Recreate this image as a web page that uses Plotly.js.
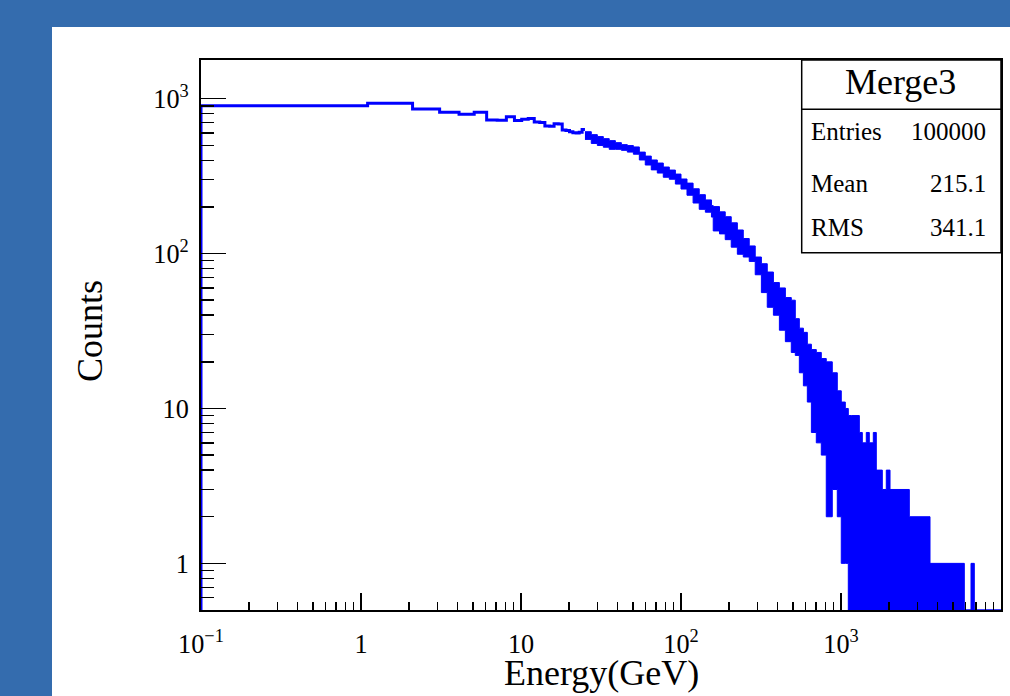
<!DOCTYPE html>
<html><head><meta charset="utf-8">
<script src="https://cdn.plot.ly/plotly-3.0.1.min.js"></script>
<style>html,body{margin:0;padding:0;background:#fff;} #chart{width:1010px;height:696px;}</style>
</head><body><div id="chart"></div>
<script>
// ---- data ----
// individual 1-GeV bins at low energy (lower edges 0.1, 1.1, ...)
const lowBinEdges = [0.1, 1.1, 2.1, 3.1, 4.1, 5.1, 6.1, 7.1, 8.1, 9.1, 10.1, 11.1, 12.1, 13.1, 14.1, 15.1, 16.1, 17.1, 18.1, 19.1, 20.1, 21.1, 22.1, 23.1, 24.1, 25.1];
const lowCounts = [900, 933, 858, 816, 792, 816, 728, 726, 764, 724, 736, 746, 706, 703, 666, 664, 690, 686, 627, 624, 612, 603, 600, 606, 632];
// dense region: envelope (max / min bin content) of the fluctuating bins
const bandEdges = [25.1, 27.5, 30.0, 32.7, 35.6, 38.9, 42.4, 46.2, 50.4, 54.9, 59.8, 65.2, 71.1, 77.5, 84.5, 92.2, 100, 109, 119, 130, 142, 155, 159, 174, 189, 206, 225, 245, 267, 291, 318, 346, 378, 412, 449, 489, 518, 549, 582, 616, 653, 701, 753, 809, 882, 948, 1004, 1064, 1111, 1160, 1302, 1359, 1439, 1503, 1592, 1662, 1812, 1919, 2025, 2673, 3600, 5898, 6494, 6810, 10000];
const bandMax = [612, 586, 569, 552, 536, 520, 505, 498, 488, 452, 426, 402, 384, 362, 346, 326, 303, 285, 262, 240, 222, 204, 201, 186, 173, 158, 142, 125, 112, 95, 86, 76, 65, 60, 52, 50, 38, 33, 31, 26, 24, 23, 21, 20, 17, 13, 11, 10, 9, 9, 7, 6, 7, 6, 7, 4, 3, 4, 3, 2, 1, 0, 1, 0];
const bandMin = [546, 514, 499, 486, 471, 471, 464, 452, 438, 402, 373, 347, 331, 311, 302, 281, 261, 238, 212, 193, 185, 172, 140, 134, 123, 110, 99, 95, 89, 73, 56, 45, 40, 32, 27, 23, 22, 17, 14, 11, 7, 6, 5, 2, 3, 2, 1, 1, 0, 0, 0, 0, 0, 0, 0, 0, 0, 0, 0, 0, 0, 0, 0, 0];
const statsTitle = 'Merge3';
const statsLabels = ['Entries', 'Mean', 'RMS'];
const statsValues = ['100000', '215.1', '341.1'];
const xTitle = 'Energy(GeV)';
const yTitle = 'Counts';

// ---- drawing ----
const FLOOR = 0.5;            // log-axis floor (ROOT draws empty bins at the frame)
const BLUE = '#0000ff';
const SERIF = 'Liberation Serif, Times New Roman, serif';
const drawVal = v => (v > 0 ? v : FLOOR);

const lowX = [lowBinEdges[0]].concat(lowBinEdges);
const lowY = [FLOOR].concat(lowCounts).concat([lowCounts[lowCounts.length - 1]]);
const bandMinY = bandMin.map(drawVal).concat([drawVal(bandMin[bandMin.length - 1])]);
const bandMaxY = bandMax.map(drawVal).concat([drawVal(bandMax[bandMax.length - 1])]);

const traces = [
  {x: bandEdges, y: bandMinY, type: 'scatter', mode: 'lines',
   line: {shape: 'hv', color: BLUE, width: 1}, showlegend: false, hoverinfo: 'skip'},
  {x: bandEdges, y: bandMaxY, type: 'scatter', mode: 'lines', fill: 'tonexty', fillcolor: BLUE,
   line: {shape: 'hv', color: BLUE, width: 1}, showlegend: false},
  {x: lowX, y: lowY, type: 'scatter', mode: 'lines',
   line: {shape: 'hv', color: BLUE, width: 3}, showlegend: false}
];

const xp = px => (px - 201) / 800;
const yp = py => (610 - py) / 550;

const annotations = [
  {text: statsTitle, x: xp(900), y: yp(82), xref: 'paper', yref: 'paper', xanchor: 'center', yanchor: 'middle',
   showarrow: false, font: {family: SERIF, size: 36, color: '#000'}},
  {text: xTitle, x: xp(601), y: yp(673), xref: 'paper', yref: 'paper', xanchor: 'center', yanchor: 'middle',
   showarrow: false, font: {family: SERIF, size: 36, color: '#000'}},
  {text: yTitle, x: xp(90), y: yp(331), xref: 'paper', yref: 'paper', xanchor: 'center', yanchor: 'middle',
   textangle: -90, showarrow: false, font: {family: SERIF, size: 36, color: '#000'}}
];
const rowY = [132, 183, 228];
statsLabels.forEach((lab, i) => {
  annotations.push({text: lab, x: xp(809), y: yp(rowY[i]), xref: 'paper', yref: 'paper', xanchor: 'left', yanchor: 'middle',
    showarrow: false, font: {family: SERIF, size: 25, color: '#000'}});
  annotations.push({text: statsValues[i], x: xp(988), y: yp(rowY[i]), xref: 'paper', yref: 'paper', xanchor: 'right', yanchor: 'middle',
    showarrow: false, font: {family: SERIF, size: 25, color: '#000'}});
});

const axisCommon = {
  type: 'log', showgrid: false, zeroline: false, showline: true, linecolor: '#000', linewidth: 2, mirror: true,
  ticks: 'inside', tickcolor: '#000', tickwidth: 1.5, dtick: 1, exponentformat: 'power',
  tickfont: {family: SERIF, size: 21, color: '#000'}, automargin: false
};

const layout = {
  width: 1010, height: 696,
  margin: {l: 201, r: 9, t: 60, b: 86},
  paper_bgcolor: '#346cae', plot_bgcolor: '#ffffff',
  showlegend: false,
  xaxis: Object.assign({}, axisCommon, {range: [-1, 4], ticklen: 17, ticklabelstandoff: 11,
    minor: {ticks: 'inside', ticklen: 8, tickwidth: 1.5, tickcolor: '#000', dtick: 'D1', showgrid: false}}),
  yaxis: Object.assign({}, axisCommon, {range: [Math.log10(FLOOR), 3.2497], ticklen: 25, ticklabelstandoff: 6,
    minor: {ticks: 'inside', ticklen: 13, tickwidth: 1.5, tickcolor: '#000', dtick: 'D1', showgrid: false}}),
  shapes: [
    {type: 'rect', xref: 'paper', yref: 'paper', x0: xp(52), x1: xp(1015), y0: yp(700), y1: yp(27),
     fillcolor: '#ffffff', line: {width: 0}, layer: 'below'},
    {type: 'rect', xref: 'paper', yref: 'paper', x0: xp(801.7), x1: 1, y0: yp(252.7), y1: 1,
     fillcolor: '#ffffff', line: {color: '#000', width: 1.5}, layer: 'above'},
    {type: 'line', xref: 'paper', yref: 'paper', x0: xp(801.7), x1: 1, y0: yp(109.3), y1: yp(109.3),
     line: {color: '#000', width: 1.5}, layer: 'above'}
  ],
  annotations: annotations
};

Plotly.newPlot('chart', traces, layout, {displayModeBar: false, staticPlot: true});
</script>
</body></html>
